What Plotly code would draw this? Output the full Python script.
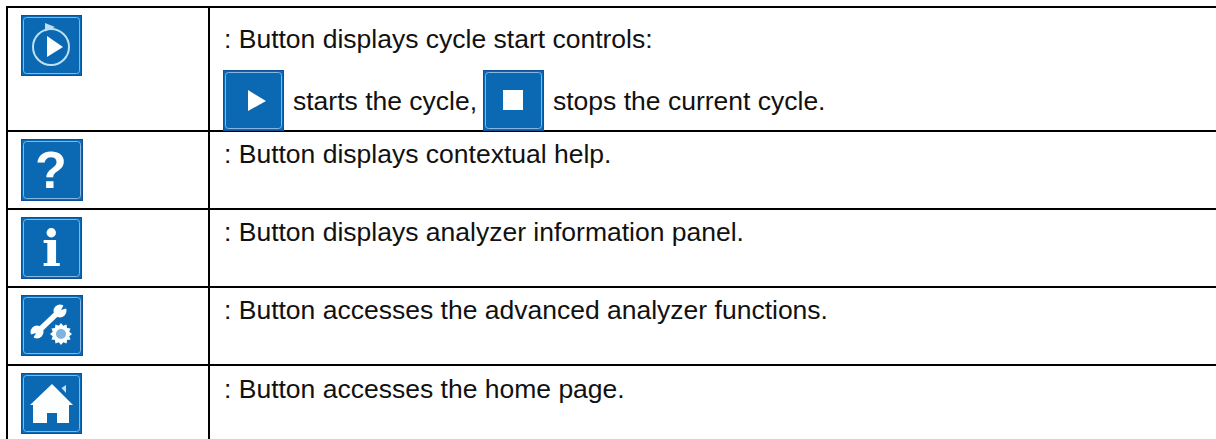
import math
import plotly.graph_objects as go

# ---- content ----
row_texts = [
    ": Button displays cycle start controls:",
    ": Button displays contextual help.",
    ": Button displays analyzer information panel.",
    ": Button accesses the advanced analyzer functions.",
    ": Button accesses the home page.",
]
inline_texts = ["starts the cycle,", "stops the current cycle."]
icon_glyphs = ["?", "i"]

# ---- layout (pixels on a 1216 x 439 sheet) ----
W, H = 1216, 439
row_lines = [7, 131, 209, 287, 365]
col_lines = [7, 209]
row_text_y = [39, 154, 232, 310, 388.5]
row_text_x = 223
inline_pos = [(291.5, 101), (551.5, 101)]

BLUE = "#0a69b2"
EDGE = "#0f5098"
RIM = "#86b7dc"
WHITE = "#fdfefe"
SOFT = "#bfe0f2"

shapes = []


def path(d, fill=None, line=None, width=0):
    shapes.append(dict(type="path", path=d, xref="x", yref="y", layer="above",
                       fillcolor=fill if fill else "rgba(0,0,0,0)",
                       line=dict(color=line if line else "rgba(0,0,0,0)", width=width)))


def poly(pts, fill, line=None, width=0):
    d = "M " + " L ".join(f"{x} {y}" for x, y in pts) + " Z"
    path(d, fill, line, width)


def circle(cx, cy, r, fill=None, line=None, width=0):
    shapes.append(dict(type="circle", xref="x", yref="y", layer="above",
                       x0=cx - r, x1=cx + r, y0=cy - r, y1=cy + r,
                       fillcolor=fill if fill else "rgba(0,0,0,0)",
                       line=dict(color=line if line else "rgba(0,0,0,0)", width=width)))


def rrect(x0, y0, x1, y1, r):
    return (f"M {x0 + r} {y0} L {x1 - r} {y0} Q {x1} {y0} {x1} {y0 + r} "
            f"L {x1} {y1 - r} Q {x1} {y1} {x1 - r} {y1} L {x0 + r} {y1} "
            f"Q {x0} {y1} {x0} {y1 - r} L {x0} {y0 + r} Q {x0} {y0} {x0 + r} {y0} Z")


def button(x0, y0, x1, y1):
    poly([(x0, y0), (x1, y0), (x1, y1), (x0, y1)], EDGE)
    poly([(x0 + 1, y0 + 1), (x1 - 1, y0 + 1), (x1 - 1, y1 - 1), (x0 + 1, y1 - 1)], BLUE)
    path(rrect(x0 + 2.5, y0 + 2.5, x1 - 2.5, y1 - 2.5, 3), None, RIM, 1)


# cycle button
button(21, 15, 82, 76)
circle(51, 47, 18, None, SOFT, 2)
poly([(47, 36), (47, 57), (63, 47)], WHITE)
poly([(45, 23), (55, 27), (45, 31.5)], SOFT)

# small play
button(223, 70, 284, 131)
poly([(248, 90), (248, 111), (266, 101)], WHITE)

# small stop
button(483, 70, 544, 131)
poly([(503, 90), (523, 90), (523, 110), (503, 110)], WHITE)

# help / info
button(21, 139, 83, 201)
button(21, 217, 82, 279)

# tools
button(21, 295, 83, 356)
path("M 38.5 331 L 58 312.5", None, WHITE, 5.5)
circle(60, 311, 6.5, WHITE)
poly([(61, 310), (66, 301), (71, 307)], BLUE)
circle(37, 332, 6.5, WHITE)
poly([(36, 333), (31, 342), (26, 336)], BLUE)
gear = []
for k in range(24):
    r = 11 if k % 2 == 0 else 8.6
    a = 2 * math.pi * k / 24
    gear.append((round(61 + r * math.cos(a), 2), round(334 + r * math.sin(a), 2)))
poly(gear, WHITE)
circle(61, 334, 5, "#7fb4de")

# home
button(21, 373, 82, 434)
poly([(52, 384), (73, 405), (69, 405), (69, 423), (57, 423), (57, 413), (47, 413),
      (47, 423), (33, 423), (33, 405), (30, 405)], WHITE)
poly([(61.5, 388), (66, 385), (66, 393)], SOFT)

# table rules, as one line trace
grid_x, grid_y = [], []
for y in row_lines:
    grid_x += [6, W, None]
    grid_y += [y, y, None]
for x in col_lines:
    grid_x += [x, x, None]
    grid_y += [6, H, None]

fig = go.Figure(go.Scatter(x=grid_x, y=grid_y, mode="lines", hoverinfo="skip",
                           line=dict(color="#000000", width=2), showlegend=False))

TEXT_FONT = dict(family="Liberation Sans", size=26.5, color="#111111")
annotations = []
for text, y in zip(row_texts, row_text_y):
    annotations.append(dict(x=row_text_x, y=y, text=text, xanchor="left", yanchor="middle",
                            showarrow=False, font=TEXT_FONT, xref="x", yref="y",
                            borderpad=0, align="left"))
for text, (x, y) in zip(inline_texts, inline_pos):
    annotations.append(dict(x=x, y=y, text=text, xanchor="left", yanchor="middle",
                            showarrow=False, font=TEXT_FONT, xref="x", yref="y", borderpad=0))
annotations.append(dict(x=51, y=170, text=f"<b>{icon_glyphs[0]}</b>", showarrow=False,
                        xref="x", yref="y", xanchor="center", yanchor="middle",
                        font=dict(family="Liberation Sans", size=52, color=WHITE)))
annotations.append(dict(x=51, y=248, text=f"<b>{icon_glyphs[1]}</b>", showarrow=False,
                        xref="x", yref="y", xanchor="center", yanchor="middle",
                        font=dict(family="DejaVu Serif", size=50, color=WHITE)))

fig.update_layout(
    width=W, height=H, margin=dict(l=0, r=0, t=0, b=0),
    paper_bgcolor="#ffffff", plot_bgcolor="#ffffff", showlegend=False,
    xaxis=dict(range=[0, W], visible=False, fixedrange=True),
    yaxis=dict(range=[H, 0], visible=False, fixedrange=True),
    shapes=shapes, annotations=annotations,
)
fig.write_html("out.html", config=dict(displayModeBar=False),
               default_width=f"{W}px", default_height=f"{H}px",
               post_script="document.body.style.margin='0';")
